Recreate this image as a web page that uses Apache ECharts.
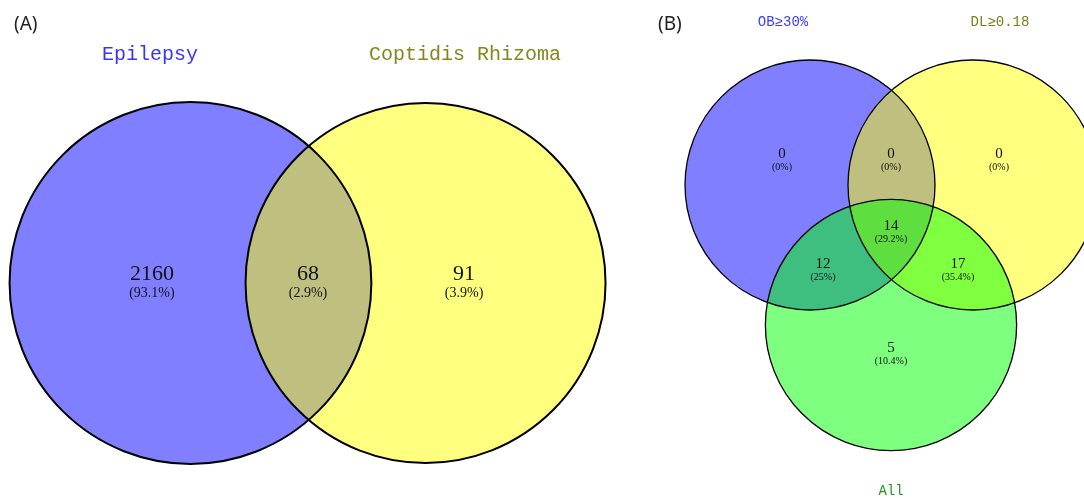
<!DOCTYPE html>
<html lang="en">
<head>
    <meta charset="UTF-8">
    <title>Venn</title>
    <script src="https://cdn.jsdelivr.net/npm/echarts@6/dist/echarts.min.js"></script>
    <style>
        body { margin: 0; background: #fff; }
        #chart { width: 1084px; height: 498px; }
    </style>
</head>
<body>
<div id="chart"></div>
<script>
    // panel A: two sets
    var setsA = ['Epilepsy', 'Coptidis Rhizoma'];
    var countsA = [2160, 68, 91];
    var pctA = ['93.1%', '2.9%', '3.9%'];

    // panel B: three sets
    var setsB = ['OB≥30%', 'DL≥0.18', 'All'];
    var regionsB = ['OB', 'OB&DL', 'DL', 'OB&DL&All', 'OB&All', 'DL&All', 'All'];
    var countsB = [0, 0, 0, 14, 12, 17, 5];
    var pctB = ['0%', '0%', '0%', '29.2%', '25%', '35.4%', '10.4%'];

    // layout (unit circles, radius 1)
    var circA = [[-0.653, 0, 1.005], [0.653, 0, 1.0]];
    var labA = [[-0.867, 0], [0, 0], [0.867, 0]];
    var nameA = [[-0.878, 1.267], [0.872, 1.267]];

    var circB = [[-0.648, 0.56, 1], [0.656, 0.56, 1], [0, -0.56, 1.005]];
    var labB = [[-0.872, 0.76], [0, 0.76], [0.864, 0.76], [0, 0.18], [-0.544, -0.12], [0.536, -0.12], [0, -0.79]];
    var nameB = [[-0.864, 1.864], [0.872, 1.864], [0, -1.89]];

    var fillA = ['rgba(0,0,255,0.5)', 'rgba(255,255,0,0.5)'];
    var fillB = ['rgba(0,0,255,0.5)', 'rgba(255,255,0,0.5)', 'rgba(0,255,0,0.5)'];
    var nameColA = ['#3535ff', '#86861c'];
    var nameColB = ['#3c3cff', '#7d7d1e', '#229a22'];

    // fill pass, then outline pass on top so every arc stays black
    function circleSeries(idx, data, fills, lw, outline) {
        return {
            type: 'custom',
            xAxisIndex: idx, yAxisIndex: idx,
            z: outline ? 2 : 1,
            clip: false,
            silent: true,
            data: data,
            renderItem: function (params, api) {
                var c = api.coord([api.value(0), api.value(1)]);
                var r = api.size([api.value(2), 0])[0];
                return {
                    type: 'circle',
                    shape: {cx: c[0], cy: c[1], r: r},
                    style: outline ? {fill: null, stroke: '#000', lineWidth: lw}
                                   : {fill: fills[params.dataIndex], stroke: null}
                };
            }
        };
    }

    function labelSeries(idx, pos, counts, pcts, numSize, pctSize) {
        var data = [];
        for (var i = 0; i < pos.length; i++) {
            data.push({value: pos[i], n: counts[i], p: pcts[i]});
        }
        return {
            type: 'scatter',
            xAxisIndex: idx, yAxisIndex: idx,
            symbolSize: 0,
            itemStyle: {opacity: 1},
            z: 5,
            silent: true,
            data: data,
            label: {
                show: true,
                position: 'inside',
                formatter: function (p) {
                    return '{n|' + p.data.n + '}\n{p|(' + p.data.p + ')}';
                },
                rich: {
                    n: {fontFamily: 'Liberation Serif', fontSize: numSize, color: '#111', lineHeight: numSize * 0.95, align: 'center'},
                    p: {fontFamily: 'Liberation Serif', fontSize: pctSize, color: '#111', lineHeight: pctSize * 1.2, align: 'center'}
                }
            }
        };
    }

    function nameSeries(idx, pos, names, colors, size) {
        var data = [];
        for (var i = 0; i < pos.length; i++) {
            data.push({value: pos[i], name: names[i], label: {color: colors[i]}});
        }
        return {
            type: 'scatter',
            xAxisIndex: idx, yAxisIndex: idx,
            symbolSize: 0,
            itemStyle: {opacity: 1},
            z: 5,
            silent: true,
            data: data,
            label: {
                show: true,
                position: 'inside',
                formatter: '{b}',
                fontFamily: 'Liberation Mono',
                fontSize: size
            }
        };
    }

    var hidden = {show: false};
    var chart = echarts.init(document.getElementById('chart'));
    chart.setOption({
        animation: false,
        title: [
            {text: '(A)', left: 9, top: 10, textStyle: {fontFamily: 'Noto Sans', fontWeight: 'normal', fontSize: 19, color: '#222'}},
            {text: '(B)', left: 653, top: 10, textStyle: {fontFamily: 'Noto Sans', fontWeight: 'normal', fontSize: 19, color: '#222'}}
        ],
        grid: [
            {left: 0, top: 0, width: 620, height: 498},
            {left: 660, top: 0, width: 424, height: 498}
        ],
        xAxis: [
            {type: 'value', gridIndex: 0, min: -308 / 180, max: 312 / 180, axisLine: hidden, axisTick: hidden, axisLabel: hidden, splitLine: hidden},
            {type: 'value', gridIndex: 1, min: -231 / 125, max: 193 / 125, axisLine: hidden, axisTick: hidden, axisLabel: hidden, splitLine: hidden}
        ],
        yAxis: [
            {type: 'value', gridIndex: 0, min: -215 / 180, max: 283 / 180, axisLine: hidden, axisTick: hidden, axisLabel: hidden, splitLine: hidden},
            {type: 'value', gridIndex: 1, min: -243 / 125, max: 255 / 125, axisLine: hidden, axisTick: hidden, axisLabel: hidden, splitLine: hidden}
        ],
        series: [
            circleSeries(0, circA, fillA, 2, false),
            circleSeries(0, circA, fillA, 2, true),
            labelSeries(0, labA, countsA, pctA, 22, 14),
            nameSeries(0, nameA, setsA, nameColA, 20),
            circleSeries(1, circB, fillB, 1.3, false),
            circleSeries(1, circB, fillB, 1.3, true),
            labelSeries(1, labB, countsB, pctB, 15, 10),
            nameSeries(1, nameB, setsB, nameColB, 14)
        ]
    });
</script>
</body>
</html>
